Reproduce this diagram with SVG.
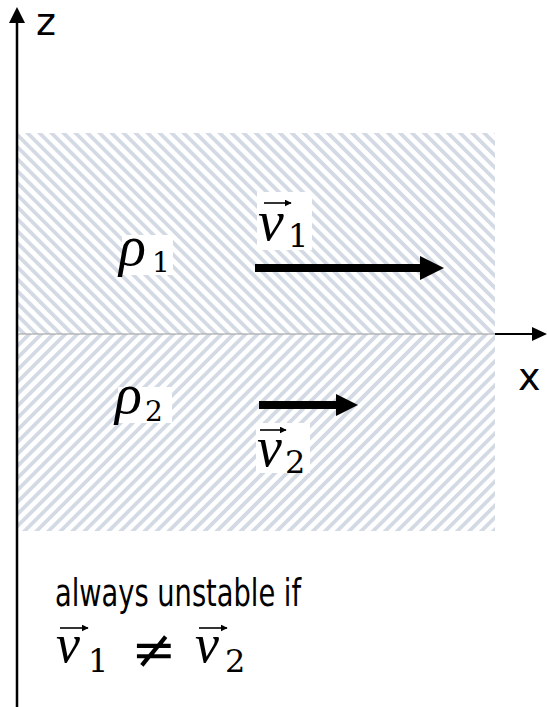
<svg xmlns="http://www.w3.org/2000/svg" width="547" height="707" viewBox="0 0 547 707">
  <style>
    .lbl { font-family: "DejaVu Sans", Verdana, sans-serif; fill: #000; }
    .math { font-family: "Liberation Serif", "Times New Roman", serif; font-style: italic; fill: #000; }
    .sub { font-family: "DejaVu Serif", "Liberation Serif", serif; fill: #000; }
    .vec { stroke: #000; stroke-width: 1.6; fill: none; }
    .bg { fill: #fff; }
  </style>
  <defs>
    <pattern id="hatchA" patternUnits="userSpaceOnUse" width="8.5" height="8.5" patternTransform="rotate(-45)">
      <rect width="8.5" height="8.5" fill="#fff"/>
      <rect x="0" y="0" width="3.8" height="8.5" fill="#d3dae4"/>
    </pattern>
    <pattern id="hatchB" patternUnits="userSpaceOnUse" width="8.5" height="8.5" patternTransform="rotate(45)">
      <rect width="8.5" height="8.5" fill="#fff"/>
      <rect x="0" y="0" width="3.8" height="8.5" fill="#d3dae4"/>
    </pattern>
    <marker id="vhead" viewBox="0 0 10 10" refX="9" refY="5" markerWidth="7" markerHeight="7" markerUnits="userSpaceOnUse" orient="auto">
      <path d="M0,0 L10,5 L0,10 z" fill="#000"/>
    </marker>
  </defs>

  <g id="fluid1">
    <rect x="18" y="133" width="477" height="201" fill="url(#hatchA)"/>
  </g>
  <g id="fluid2">
    <rect x="18" y="334" width="477" height="197" fill="url(#hatchB)"/>
  </g>

  <g id="connectors">
    <!-- z axis -->
    <line x1="17" y1="707" x2="17" y2="22" stroke="#000" stroke-width="2.5"/>
    <path d="M9,23 L17,7 L25,23 z" fill="#000"/>
    <!-- interface line -->
    <line x1="18" y1="334" x2="495" y2="334" stroke="#9a9a9a" stroke-width="1.2"/>
    <!-- x axis -->
    <line x1="495" y1="334" x2="534" y2="334" stroke="#000" stroke-width="2"/>
    <path d="M532,327 L547,334 L532,341 z" fill="#000"/>
    <!-- velocity arrows -->
    <rect x="255" y="264" width="167" height="8" fill="#000"/>
    <path d="M420,256 L444,268 L420,280 z" fill="#000"/>
    <rect x="259" y="401" width="79" height="8" fill="#000"/>
    <path d="M336,394 L358,405 L336,416 z" fill="#000"/>
  </g>

  <g id="axis-z-label">
    <text class="lbl" x="36" y="35" font-size="38">z</text>
  </g>
  <g id="axis-x-label">
    <text class="lbl" x="518" y="390" font-size="38">x</text>
  </g>

  <g id="rho1">
    <rect class="bg" x="122" y="235" width="51" height="40"/>
    <text class="math" x="119" y="265" font-size="56">ρ</text>
    <text class="sub" x="152" y="272" font-size="28">1</text>
  </g>
  <g id="rho2">
    <rect class="bg" x="118" y="387" width="54" height="36"/>
    <text class="math" x="115" y="413" font-size="56">ρ</text>
    <text class="sub" x="145" y="421" font-size="28">2</text>
  </g>

  <g id="v1-label">
    <rect class="bg" x="257" y="192" width="55" height="58"/>
    <text class="math" x="258" y="240" font-size="58">v</text>
    <line class="vec" x1="264" y1="203" x2="291" y2="203" marker-end="url(#vhead)"/>
    <text class="sub" x="288" y="247" font-size="32">1</text>
  </g>
  <g id="v2-label">
    <rect class="bg" x="256" y="423" width="54" height="50"/>
    <text class="math" x="257" y="466" font-size="56">v</text>
    <line class="vec" x1="260" y1="430" x2="286" y2="430" marker-end="url(#vhead)"/>
    <text class="sub" x="285" y="473" font-size="32">2</text>
  </g>

  <g id="note">
    <text class="lbl" x="55" y="606" font-size="37" textLength="246" lengthAdjust="spacingAndGlyphs">always unstable if</text>
    <text class="math" x="56" y="662" font-size="54">v</text>
    <line class="vec" x1="60" y1="628" x2="88" y2="628" marker-end="url(#vhead)"/>
    <text class="sub" x="88" y="672" font-size="32">1</text>
    <text class="sub" x="131" y="668" font-size="54">≠</text>
    <text class="math" x="195" y="662" font-size="54">v</text>
    <line class="vec" x1="199" y1="628" x2="227" y2="628" marker-end="url(#vhead)"/>
    <text class="sub" x="225" y="672" font-size="32">2</text>
  </g>
</svg>
